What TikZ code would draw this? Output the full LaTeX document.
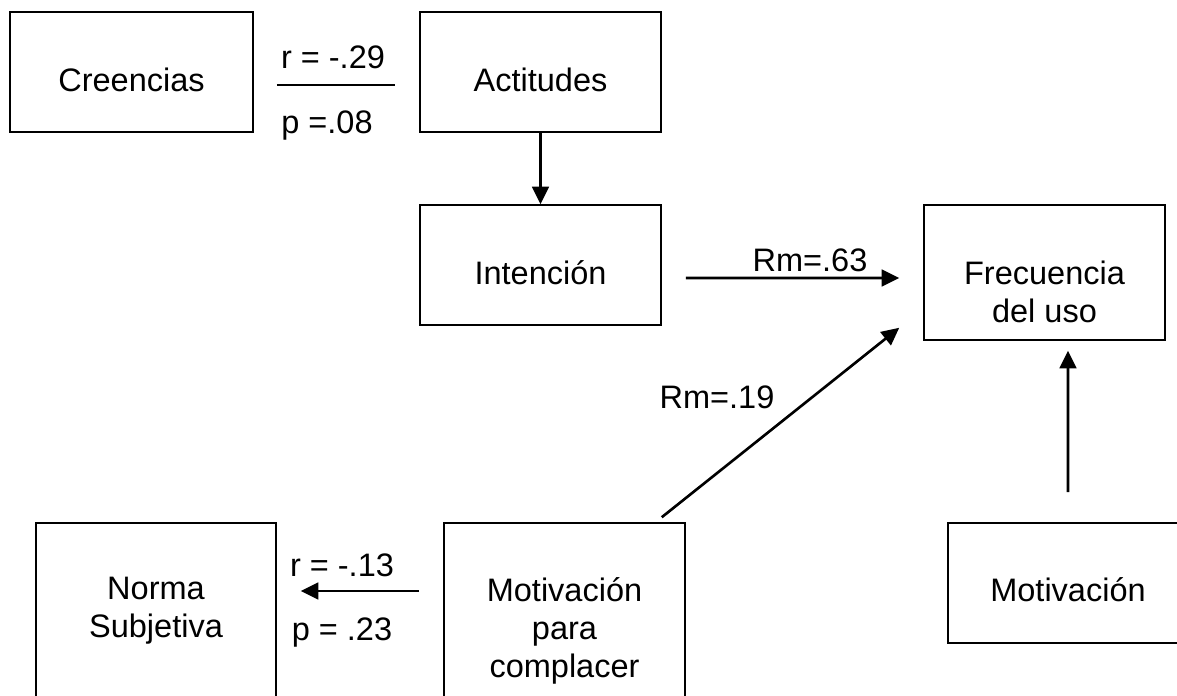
\documentclass[tikz,border=0pt]{standalone}
\usepackage{fontspec}
\setmainfont{Liberation Sans}
\usetikzlibrary{arrows.meta}

\begin{document}
\begin{tikzpicture}[
  x=0.02cm, y=-0.02cm,
  every node/.style={font=\fontsize{18.5}{21.5}\selectfont},
  box/.style={draw, line width=0.9pt, inner sep=0pt, minimum width=4.82cm, minimum height=2.4cm},
  txt/.style={align=center, inner sep=0pt},
  arrow/.style={-{Triangle[length=10pt, width=9.5pt]}, line width=1.5pt},
  plain/.style={line width=1.3pt}
]
\clip (0,0) rectangle (1177,696);

% boxes
\node[box, minimum width=4.86cm] (creencias) at (131.5,72) {};
\node[box] (actitudes) at (540.5,72) {};
\node[box] (intencion) at (540.5,265) {};
\node[box, minimum height=2.7cm] (frecuencia) at (1044.5,272.5) {};
\node[box, minimum width=4.8cm] (motivacion) at (1068,583) {};
\node[box, minimum height=3.64cm] (complacer) at (564.5,614) {};
\node[box, minimum width=4.8cm, minimum height=3.64cm] (norma) at (156,614) {};

% box texts
\node[txt] (t-creencias) at (131.5,80) {Creencias};
\node[txt] (t-actitudes) at (540.5,80) {Actitudes};
\node[txt] (t-intencion) at (540.5,273) {Intención};
\node[txt] (t-frecuencia) at (1044.5,292) {Frecuencia\\del uso};
\node[txt] (t-motivacion) at (1068,590) {Motivación};
\node[txt] (t-complacer) at (564.5,631) {Motivación\\para\\complacer};
\node[txt] (t-norma) at (156,611) {Norma\\Subjetiva};

% values
\node[txt] (r-cre) at (333,57) {r = -.29};
\node[txt] (p-cre) at (327,126) {p =.08};
\node[txt] (rm-int) at (810,260) {Rm=.63};
\node[txt] (rm-com) at (717,397) {Rm=.19};
\node[txt] (r-nor) at (342,565) {r = -.13};
\node[txt] (p-nor) at (342,633) {p = .23};

% connectors
\draw[plain] ([xshift=.46cm,yshift=-.26cm]creencias.east) -- ([xshift=-.48cm,yshift=-.26cm]actitudes.west);
\draw[arrow] (actitudes.south) -- (intencion.north);
\draw[arrow] ([xshift=.48cm,yshift=-.26cm]intencion.east) -- ([xshift=-.48cm,yshift=-.11cm]frecuencia.west);
\draw[arrow] ([xshift=-.48cm,yshift=.1cm]complacer.north east) -- ([xshift=-.48cm,yshift=.26cm]frecuencia.south west);
\draw[arrow] ([yshift=.6cm]motivacion.north) -- ([xshift=.47cm,yshift=-.2cm]frecuencia.south);
\draw[arrow] ([xshift=-.48cm,yshift=.46cm]complacer.west) -- ([xshift=.48cm,yshift=.46cm]norma.east);
\end{tikzpicture}
\end{document}
